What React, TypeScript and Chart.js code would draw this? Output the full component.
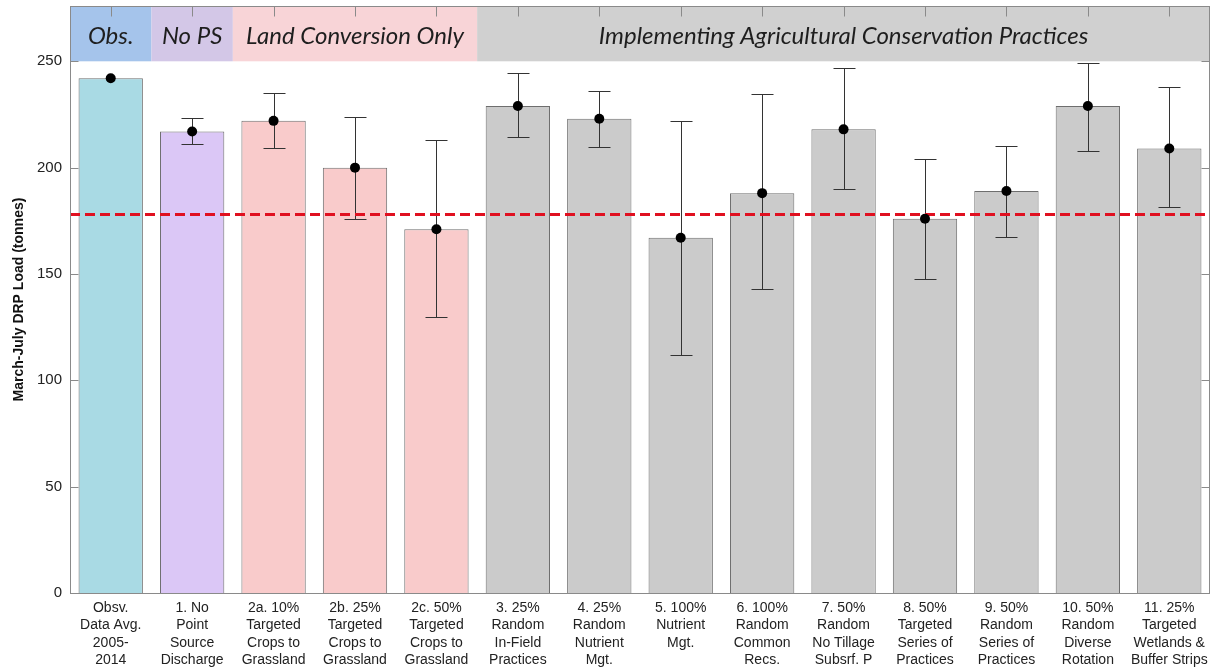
import React, { useEffect, useRef } from "react";
import { Chart, registerables } from "chart.js";

Chart.register(...registerables);

const categories: string[][] = [
  ["Obsv.", "Data Avg.", "2005-", "2014"],
  ["1. No", "Point", "Source", "Discharge"],
  ["2a. 10%", "Targeted", "Crops to", "Grassland"],
  ["2b. 25%", "Targeted", "Crops to", "Grassland"],
  ["2c. 50%", "Targeted", "Crops to", "Grassland"],
  ["3. 25%", "Random", "In-Field", "Practices"],
  ["4. 25%", "Random", "Nutrient", "Mgt."],
  ["5. 100%", "Nutrient", "Mgt."],
  ["6. 100%", "Random", "Common", "Recs."],
  ["7. 50%", "Random", "No Tillage", "Subsrf. P"],
  ["8. 50%", "Targeted", "Series of", "Practices"],
  ["9. 50%", "Random", "Series of", "Practices"],
  ["10. 50%", "Random", "Diverse", "Rotation"],
  ["11. 25%", "Targeted", "Wetlands &", "Buffer Strips"],
];

const loads = [242, 217, 222, 200, 171, 229, 223, 167, 188, 218, 176, 189, 229, 209];
const errHigh: (number | null)[] = [null, 223.5, 235, 224, 213, 244.5, 236, 222, 234.5, 247, 204, 210, 249, 238];
const errLow: (number | null)[] = [null, 211, 209, 176, 130, 214.5, 209.5, 112, 143, 190, 147.5, 167.5, 208, 181.5];
const barColors = [
  "#a9dae4", "#dbc7f6", "#f9cbcb", "#f9cbcb", "#f9cbcb",
  "#cbcbcb", "#cbcbcb", "#cbcbcb", "#cbcbcb", "#cbcbcb",
  "#cbcbcb", "#cbcbcb", "#cbcbcb", "#cbcbcb",
];
const targetLoad = 178;
const yTicks = [0, 50, 100, 150, 200, 250];
const headerLabels = ["Obs.", "No PS", "Land Conversion Only", "Implementing Agricultural Conservation Practices"];
const headerFrom = [0, 1, 2, 5];
const headerTo = [0, 1, 4, 13];
const headerColors = ["#a5c4eb", "#d3c7e7", "#f8d4d7", "#d0d0d0"];
const headerBase = 250;
const yMax = 276;

const decorPlugin = {
  id: "decor",
  beforeDatasetsDraw(chart: any) {
    const { ctx, chartArea, scales } = chart;
    const x = scales.x;
    const y = scales.y;
    const half = (x.getPixelForValue(1) - x.getPixelForValue(0)) / 2;
    const yb = y.getPixelForValue(headerBase);
    ctx.save();
    for (let i = 0; i < headerLabels.length; i++) {
      const l = i === 0 ? chartArea.left : x.getPixelForValue(headerFrom[i]) - half;
      const r = i === headerLabels.length - 1 ? chartArea.right : x.getPixelForValue(headerTo[i]) + half;
      ctx.fillStyle = headerColors[i];
      ctx.fillRect(l, chartArea.top, r - l, yb - chartArea.top);
      ctx.fillStyle = "#1e1e1e";
      ctx.font = "italic 24px Lato";
      ctx.textAlign = "center";
      ctx.textBaseline = "middle";
      ctx.fillText(headerLabels[i], (l + r) / 2, (chartArea.top + yb) / 2 + 3);
    }
    ctx.restore();
  },
  afterDatasetDraw(chart: any, args: any) {
    if (args.meta.type !== "bar") return;
    const { ctx, chartArea, scales } = chart;
    const x = scales.x;
    const y = scales.y;
    ctx.save();
    ctx.strokeStyle = "#333";
    ctx.lineWidth = 1;
    for (let i = 0; i < loads.length; i++) {
      const hi = errHigh[i];
      const lo = errLow[i];
      if (hi == null || lo == null) continue;
      const cx = Math.round(x.getPixelForValue(i)) + 0.5;
      const yh = Math.round(y.getPixelForValue(hi)) + 0.5;
      const yl = Math.round(y.getPixelForValue(lo)) + 0.5;
      ctx.beginPath();
      ctx.moveTo(cx, yh);
      ctx.lineTo(cx, yl);
      ctx.moveTo(cx - 11, yh);
      ctx.lineTo(cx + 11, yh);
      ctx.moveTo(cx - 11, yl);
      ctx.lineTo(cx + 11, yl);
      ctx.stroke();
    }
    const yt = y.getPixelForValue(targetLoad);
    ctx.strokeStyle = "#e01020";
    ctx.lineWidth = 3;
    ctx.setLineDash([10, 5]);
    ctx.beginPath();
    ctx.moveTo(chartArea.left, yt);
    ctx.lineTo(chartArea.right, yt);
    ctx.stroke();
    ctx.restore();
  },
  afterDraw(chart: any) {
    const { ctx, chartArea, scales } = chart;
    const x = scales.x;
    const y = scales.y;
    ctx.save();
    ctx.strokeStyle = "#8a8a8a";
    ctx.lineWidth = 1;
    const l = Math.round(chartArea.left) + 0.5;
    const r = Math.round(chartArea.right) - 0.5;
    const t = Math.round(chartArea.top) + 0.5;
    const b = Math.round(chartArea.bottom) + 0.5;
    ctx.strokeRect(l, t, r - l, b - t);
    ctx.beginPath();
    for (const v of yTicks) {
      const py = Math.round(y.getPixelForValue(v)) + 0.5;
      ctx.moveTo(l, py);
      ctx.lineTo(l + 8, py);
      ctx.moveTo(r, py);
      ctx.lineTo(r - 8, py);
    }
    for (let i = 0; i < loads.length; i++) {
      const px = Math.round(x.getPixelForValue(i)) + 0.5;
      ctx.moveTo(px, t);
      ctx.lineTo(px, t + 10);
    }
    ctx.stroke();
    ctx.restore();
  },
};

export default function App() {
  const canvasRef = useRef<HTMLCanvasElement | null>(null);

  useEffect(() => {
    document.body.style.margin = "0";
    const canvas = canvasRef.current;
    if (!canvas) return;
    const chart = new Chart(canvas, {
      type: "bar",
      data: {
        labels: categories,
        datasets: [
          {
            type: "bar",
            data: loads,
            backgroundColor: barColors,
            borderColor: "#6e6e6e",
            borderWidth: 1,
            barPercentage: 0.79,
            categoryPercentage: 1,
            order: 2,
          } as any,
          {
            type: "line",
            data: loads,
            showLine: false,
            pointRadius: 5,
            pointBackgroundColor: "#000",
            pointBorderWidth: 0,
            order: 1,
          } as any,
        ],
      },
      options: {
        animation: false,
        responsive: false,
        devicePixelRatio: 1,
        layout: { padding: { top: 6, right: 13, left: 0, bottom: 0 } },
        plugins: { legend: { display: false }, tooltip: { enabled: false } },
        scales: {
          x: {
            grid: { display: false, drawTicks: false },
            border: { display: false },
            ticks: {
              autoSkip: false,
              maxRotation: 0,
              padding: 6,
              color: "#222",
              font: { family: "Liberation Sans", size: 14, lineHeight: 1.25 },
            },
            afterFit(s: any) {
              s.height = 74;
              s.paddingLeft = 0;
              s.paddingRight = 0;
            },
          },
          y: {
            min: 0,
            max: yMax,
            grid: { display: false, drawTicks: false },
            border: { display: false },
            ticks: {
              stepSize: 50,
              padding: 8,
              color: "#222",
              font: { family: "Liberation Sans", size: 15 },
            },
            afterBuildTicks(s: any) {
              s.ticks = yTicks.map((v) => ({ value: v }));
            },
            title: {
              display: true,
              text: "March-July DRP Load (tonnes)",
              color: "#111",
              font: { family: "Liberation Sans", size: 14, weight: "bold" },
              padding: { top: 11, bottom: 0 },
            },
            afterFit(s: any) {
              s.width = 70;
              s.paddingTop = 0;
              s.paddingBottom = 0;
            },
          },
        },
      } as any,
      plugins: [decorPlugin],
    });
    return () => chart.destroy();
  }, []);

  return (
    <div style={{ width: 1223, height: 667, background: "#fff" }}>
      <canvas ref={canvasRef} width={1223} height={667} style={{ display: "block" }} />
    </div>
  );
}
